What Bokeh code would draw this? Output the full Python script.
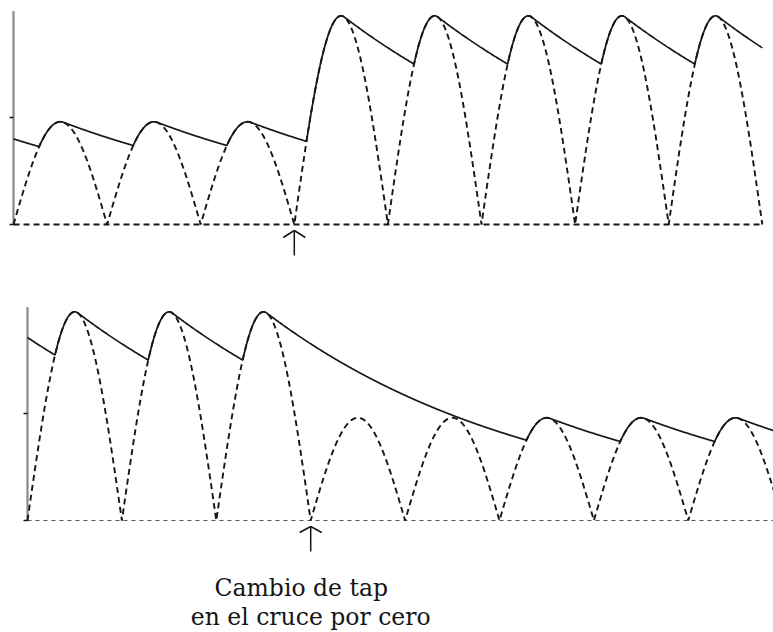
import numpy as np
from bokeh.plotting import figure
from bokeh.layouts import column
from bokeh.models import Range1d
from bokeh.core.properties import value
from bokeh.embed import file_html
from bokeh.resources import INLINE

# ---- values (time in half-cycles, voltage in p.u.) ----
amp_top = [0.96, 0.96, 0.96, 1.95, 1.95, 1.95, 1.95, 1.95]      # peak of each half-cycle
amp_bottom = [1.95, 1.95, 1.95, 0.96, 0.96, 0.96, 0.96, 0.96]
env_start_top = 0.80        # solid (capacitor) trace at t = 0
env_start_bottom = 1.71
tau = 2.9                   # decay constant of the solid trace, half-cycles
t_end_top = 8.0
t_end_bottom = 8.0
tap_change = 3              # half-cycle where the tap is changed (arrow)
y_ticks = [0, 1]
axis_top = 2.0
label_lines = ["Cambio de tap", "en el cruce por cero"]
label_x = [2.90, 3.0]
label_y = [-0.63, -0.905]

INK = "#161616"
W = 773


def waves(amps, v0, t_end, step=0.004):
    t = np.arange(0.0, t_end + 1e-9, step)
    k = np.minimum(np.floor(t).astype(int), len(amps) - 1)
    rect = np.asarray(amps)[k] * np.abs(np.sin(np.pi * t))
    env = np.empty_like(t)
    v = v0
    d = np.exp(-step / tau)
    for i, r in enumerate(rect):
        if i > 0:
            v *= d
        v = max(v, r)
        env[i] = v
    return t, rect, env


def panel(h, xr, yr):
    p = figure(width=W, height=h, x_range=Range1d(*xr), y_range=Range1d(*yr),
               x_axis_type=None, y_axis_type=None, toolbar_location=None,
               output_backend="svg", min_border=0, outline_line_color=None)
    p.background_fill_color = "white"
    p.border_fill_color = "white"
    return p


def draw(p, amps, v0, t_end, px_x, px_y, base_dash, base_w, base_col, head_h):
    t, rect, env = waves(amps, v0, t_end)
    # baseline
    p.segment(x0=[0], y0=[0], x1=[t_end], y1=[0], line_dash=base_dash,
              line_width=base_w, line_color=base_col)
    # dashed rectified sine
    p.line(t, rect, line_dash="6 4", line_width=1.9, line_color=INK)
    # solid envelope
    p.line(t, env, line_width=1.7, line_color=INK)
    # dotted vertical axis and ticks
    p.segment(x0=[0], y0=[0], x1=[0], y1=[axis_top], line_dash="1 1",
              line_width=2.2, line_color=INK)
    tl = 4.0 / px_x
    p.segment(x0=[-tl] * len(y_ticks), y0=y_ticks, x1=[0] * len(y_ticks), y1=y_ticks,
              line_width=1.3, line_color=INK)
    # arrow at the tap change
    tip = -6.0 / px_y
    tail = -31.0 / px_y
    hw = 11.0 / px_x
    hh = head_h / px_y
    p.segment(x0=[tap_change, tap_change, tap_change],
              y0=[tail, tip, tip],
              x1=[tap_change, tap_change - hw, tap_change + hw],
              y1=[tip, tip - hh, tip - hh],
              line_width=1.5, line_color=INK)


# top panel: t=0 at page x 13, 93.6 px per half-cycle; y=0 at page 224, 107 px per unit
H1 = 262
top = panel(H1, (-13 / 93.6, (W - 13) / 93.6), ((224 - H1) / 107, 224 / 107))
draw(top, amp_top, env_start_top, t_end_top, 93.6, 107.0, "6 4", 1.8, INK, 7.0)

# bottom panel: t=0 at page x 27, 94.4 px per half-cycle; y=0 at page 520, 107 px per unit
H2 = 632 - H1
bot = panel(H2, (-27 / 94.4, (W - 27) / 94.4),
            ((520 - (H1 + H2)) / 107, (520 - H1) / 107))
draw(bot, amp_bottom, env_start_bottom, t_end_bottom, 94.4, 107.0, "4 4", 1.2, "#555555", 6.0)

bot.text(x=label_x, y=label_y, text=label_lines, text_font=value("DejaVu Serif"),
         text_font_size="23.5px", text_align="center", text_baseline="alphabetic",
         text_color=INK)

layout = column(top, bot, spacing=0)
open("out.html", "w").write(file_html(layout, INLINE))
